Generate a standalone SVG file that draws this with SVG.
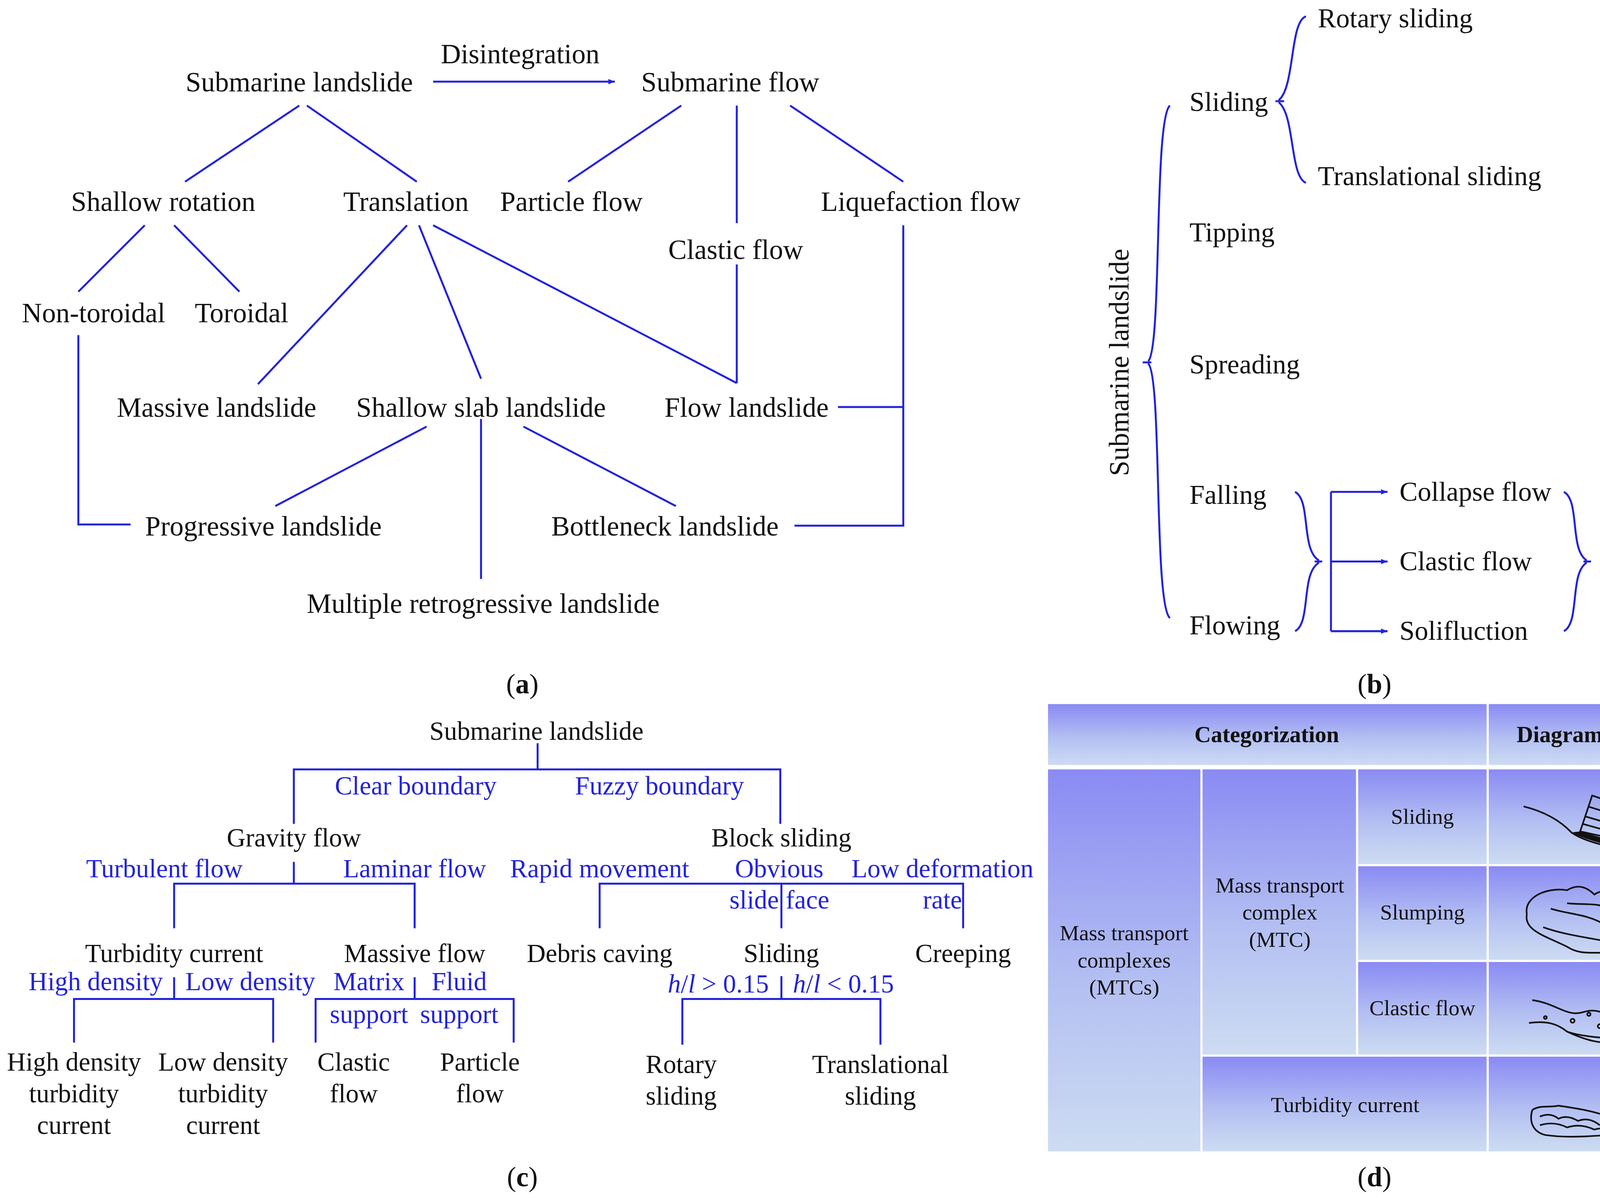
<svg xmlns="http://www.w3.org/2000/svg" width="4360" height="3067" viewBox="0 0 4360 3067">
<style>
text{font-family:"Liberation Serif","Times New Roman",serif;fill:#111}
.t{font-size:25.5px;text-anchor:middle}
.l{font-size:25px}
.c{font-size:24px;text-anchor:middle}
.b{fill:#2222dd}
.d{font-size:20px;text-anchor:middle}
.h{font-size:21px;font-weight:bold;text-anchor:middle}
.ln{stroke:#2222dd;stroke-width:1.8;fill:none}
.sk{stroke:#111;stroke-width:1.5;fill:none}
</style>
<defs>
<linearGradient id="g" x1="0" y1="0" x2="0" y2="1"><stop offset="0" stop-color="#8a8af3"/><stop offset="0.55" stop-color="#b3bff2"/><stop offset="1" stop-color="#cddcf2"/></linearGradient>
<marker id="ar" viewBox="0 0 10 10" refX="10" refY="5" markerWidth="6" markerHeight="6" orient="auto" markerUnits="userSpaceOnUse"><path d="M0,1 L10,5 L0,9 z" fill="#2222dd"/></marker>
</defs>
<rect width="4360" height="3067" fill="#fff"/>
<g transform="scale(2.786)">
<g id="connectors">
<path class="ln" d="M398,75 H565" marker-end="url(#ar)"/>
<path class="ln" d="M275,97 L170,167 M282,97 L383,167 M626,97 L522,167 M677,97 V205 M726,97 L830,167"/>
<path class="ln" d="M133,207 L72,268 M160,207 L220,268"/>
<path class="ln" d="M374,207 L237,353 M385,207 L442,348 M398,207 L677,352 M677,243 V352"/>
<path class="ln" d="M830,207 V483 H730 M770,374 H830"/>
<path class="ln" d="M72,308 V482 H120"/>
<path class="ln" d="M392,392 L253,465 M442,385 V532 M481,392 L621,465"/>
<path class="ln" d="M1200,15 C1185,20 1190,80 1175,92 M1172,93 H1180 M1175,94 C1190,106 1185,162 1200,168"/>
<path class="ln" d="M1075,97 C1060,110 1068,320 1055,332 M1050,333 H1058 M1055,334 C1068,346 1060,555 1075,568"/>
<path class="ln" d="M1190,452 C1205,460 1195,505 1212,515 M1215,516 H1208 M1212,517 C1195,527 1205,572 1190,580"/>
<path class="ln" d="M1223,452 V580"/>
<path class="ln" d="M1223,452 H1275" marker-end="url(#ar)"/>
<path class="ln" d="M1223,516 H1275" marker-end="url(#ar)"/>
<path class="ln" d="M1223,580 H1275" marker-end="url(#ar)"/>
<path class="ln" d="M1437,452 C1452,460 1442,505 1458,515 M1462,516 H1455 M1458,517 C1442,527 1452,572 1437,580"/>
<path class="ln" d="M494,683 V707 M270,757 V707 H717 V757"/>
<path class="ln" d="M270,792 V812 M160,853 V812 H381 V853"/>
<path class="ln" d="M551,853 V812 H885 V853 M718,812 V853"/>
<path class="ln" d="M160,898 V918 M68,958 V918 H251 V958"/>
<path class="ln" d="M381,898 V918 M290,958 V918 H472 V958"/>
<path class="ln" d="M718,897 V918 M627,960 V918 H809 V960"/>
</g>
<g id="a">
<text class="t" x="478" y="58">Disintegration</text>
<text class="t" x="275" y="84">Submarine landslide</text>
<text class="t" x="671" y="84">Submarine flow</text>
<text class="t" x="150" y="194">Shallow rotation</text>
<text class="t" x="373" y="194">Translation</text>
<text class="t" x="525" y="194">Particle flow</text>
<text class="t" x="846" y="194">Liquefaction flow</text>
<text class="t" x="676" y="238">Clastic flow</text>
<text class="t" x="86" y="296">Non-toroidal</text>
<text class="t" x="222" y="296">Toroidal</text>
<text class="t" x="199" y="383">Massive landslide</text>
<text class="t" x="442" y="383">Shallow slab landslide</text>
<text class="t" x="686" y="383">Flow landslide</text>
<text class="t" x="242" y="492">Progressive landslide</text>
<text class="t" x="611" y="492">Bottleneck landslide</text>
<text class="t" x="444" y="563">Multiple retrogressive landslide</text>
<text class="t" x="480" y="637">(<tspan font-weight="bold">a</tspan>)</text>
</g>
<g id="b">
<text class="l" x="1211" y="25">Rotary sliding</text>
<text class="l" x="1093" y="102">Sliding</text>
<text class="l" x="1211" y="170">Translational sliding</text>
<text class="l" x="1093" y="222">Tipping</text>
<text class="l" x="1093" y="343">Spreading</text>
<text class="l" x="1093" y="463">Falling</text>
<text class="l" x="1093" y="583">Flowing</text>
<text class="l" x="1286" y="460">Collapse flow</text>
<text class="l" x="1286" y="524">Clastic flow</text>
<text class="l" x="1286" y="588">Solifluction</text>
<text class="t" transform="translate(1037,333) rotate(-90)">Submarine landslide</text>
<text class="t" transform="translate(1503,515) rotate(-90)">Turbidity current</text>
<text class="t" x="1263" y="637">(<tspan font-weight="bold">b</tspan>)</text>
</g>
<g id="c">
<text class="c" x="493" y="680">Submarine landslide</text>
<text class="c b" x="382" y="730">Clear boundary</text>
<text class="c b" x="606" y="730">Fuzzy boundary</text>
<text class="c" x="270" y="778">Gravity flow</text>
<text class="c" x="718" y="778">Block sliding</text>
<text class="c b" x="151" y="806">Turbulent flow</text>
<text class="c b" x="381" y="806">Laminar flow</text>
<text class="c b" x="551" y="806">Rapid movement</text>
<text class="c b" x="716" y="806">Obvious</text>
<text class="c b" x="866" y="806">Low deformation</text>
<text class="c b" x="693" y="835">slide</text>
<text class="c b" x="742" y="835">face</text>
<text class="c b" x="866" y="835">rate</text>
<text class="c" x="160" y="884">Turbidity current</text>
<text class="c" x="381" y="884">Massive flow</text>
<text class="c" x="551" y="884">Debris caving</text>
<text class="c" x="718" y="884">Sliding</text>
<text class="c" x="885" y="884">Creeping</text>
<text class="c b" x="88" y="910">High density</text>
<text class="c b" x="230" y="910">Low density</text>
<text class="c b" x="339" y="910">Matrix</text>
<text class="c b" x="422" y="910">Fluid</text>
<text class="c b" x="339" y="940">support</text>
<text class="c b" x="422" y="940">support</text>
<text class="c b" x="660" y="912"><tspan font-style="italic">h</tspan>/<tspan font-style="italic">l</tspan> &gt; 0.15</text>
<text class="c b" x="775" y="912"><tspan font-style="italic">h</tspan>/<tspan font-style="italic">l</tspan> &lt; 0.15</text>
<text class="c" x="68" y="984">High density</text>
<text class="c" x="68" y="1013">turbidity</text>
<text class="c" x="68" y="1042">current</text>
<text class="c" x="205" y="984">Low density</text>
<text class="c" x="205" y="1013">turbidity</text>
<text class="c" x="205" y="1042">current</text>
<text class="c" x="325" y="984">Clastic</text>
<text class="c" x="325" y="1013">flow</text>
<text class="c" x="441" y="984">Particle</text>
<text class="c" x="441" y="1013">flow</text>
<text class="c" x="626" y="986">Rotary</text>
<text class="c" x="626" y="1015">sliding</text>
<text class="c" x="809" y="986">Translational</text>
<text class="c" x="809" y="1015">sliding</text>
<text class="t" x="480" y="1090">(<tspan font-weight="bold">c</tspan>)</text>
</g>
<g id="d">
<rect x="963" y="647" width="403" height="56" fill="url(#g)"/>
<rect x="1368" y="647" width="190" height="56" fill="url(#g)"/>
<rect x="963" y="707" width="140" height="351" fill="url(#g)"/>
<rect x="1105" y="707" width="141" height="262" fill="url(#g)"/>
<rect x="1248" y="707" width="118" height="87" fill="url(#g)"/>
<rect x="1368" y="707" width="190" height="87" fill="url(#g)"/>
<rect x="1248" y="796" width="118" height="86" fill="url(#g)"/>
<rect x="1368" y="796" width="190" height="86" fill="url(#g)"/>
<rect x="1248" y="884" width="118" height="85" fill="url(#g)"/>
<rect x="1368" y="884" width="190" height="85" fill="url(#g)"/>
<rect x="1105" y="971" width="261" height="87" fill="url(#g)"/>
<rect x="1368" y="971" width="190" height="87" fill="url(#g)"/>
<text class="h" x="1164" y="682">Categorization</text>
<text class="h" x="1463" y="682">Diagrammatize</text>
<text class="d" x="1033" y="864">Mass transport</text>
<text class="d" x="1033" y="889">complexes</text>
<text class="d" x="1033" y="914">(MTCs)</text>
<text class="d" x="1176" y="820">Mass transport</text>
<text class="d" x="1176" y="845">complex</text>
<text class="d" x="1176" y="870">(MTC)</text>
<text class="d" x="1307" y="757">Sliding</text>
<text class="d" x="1307" y="845">Slumping</text>
<text class="d" x="1307" y="933">Clastic flow</text>
<text class="d" x="1236" y="1022">Turbidity current</text>
<path class="sk" d="M1400,741 Q1428,748 1444,765 Q1465,780 1540,786"/>
<path class="sk" d="M1463,731 L1530,754 L1521,779 L1452,764 Z M1459,741 L1527,762 M1456,750 L1524,770 M1454,757 L1522,776"/>
<path d="M1444,765 Q1470,778 1518,783 L1452,764 Z" fill="#111"/>
<path class="sk" d="M1403,840 C1400,825 1420,815 1440,818 C1450,812 1458,815 1465,822 C1475,815 1485,822 1490,830 C1500,828 1508,832 1506,845 C1512,860 1510,868 1514,874 M1403,840 C1400,855 1420,860 1440,870 C1455,880 1470,872 1485,878 C1495,870 1505,875 1514,874 L1520,873 M1425,835 C1440,840 1460,840 1475,850 M1418,852 C1440,860 1465,862 1490,868 M1440,830 C1455,832 1470,828 1485,838 C1495,845 1492,860 1485,866"/>
<path class="sk" d="M1408,919 C1430,922 1440,935 1455,930 C1470,925 1480,935 1490,940 C1500,945 1500,955 1490,958 C1470,960 1455,955 1440,948 C1430,940 1420,938 1405,940 M1440,948 C1460,955 1500,955 1525,955"/>
<circle class="sk" cx="1420" cy="935" r="1.3"/><circle class="sk" cx="1445" cy="938" r="1.8"/><circle class="sk" cx="1470" cy="943" r="1.8"/><circle class="sk" cx="1480" cy="950" r="1.5"/><circle class="sk" cx="1460" cy="932" r="1.5"/>
<path class="sk" d="M1408,1020 C1415,1015 1425,1018 1432,1016 C1445,1018 1460,1020 1475,1025 C1488,1028 1495,1035 1490,1042 L1500,1044 M1408,1020 C1405,1030 1408,1040 1420,1043 C1440,1046 1465,1044 1490,1042 M1415,1026 Q1425,1022 1432,1028 Q1440,1024 1450,1030 Q1460,1026 1470,1034 M1415,1034 Q1428,1030 1440,1036 Q1452,1032 1465,1038 Q1475,1035 1482,1040"/>
<text class="t" x="1263" y="1090">(<tspan font-weight="bold">d</tspan>)</text>
</g>
</g>
</svg>
